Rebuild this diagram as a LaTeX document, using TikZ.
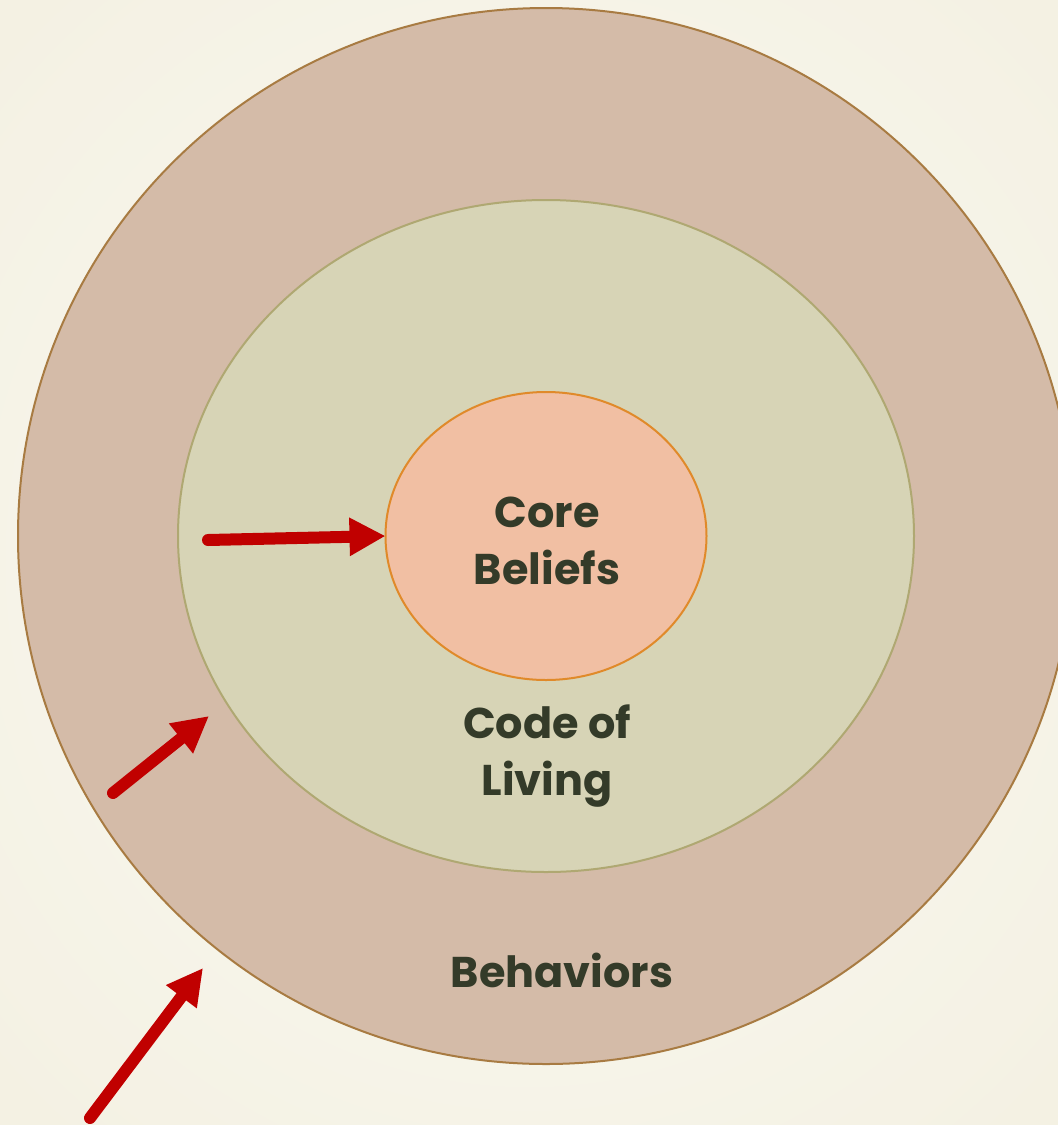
\documentclass[tikz,border=0pt]{standalone}
\usepackage{fontspec}
\setmainfont{Poppins}
\usetikzlibrary{shapes.geometric,arrows.meta}
\definecolor{bgin}{HTML}{FAF9F3}
\definecolor{bgout}{HTML}{F4F1E3}
\definecolor{outerfill}{HTML}{D4BBA8}
\definecolor{outerline}{HTML}{A87B42}
\definecolor{midfill}{HTML}{D7D4B6}
\definecolor{midline}{HTML}{AFA872}
\definecolor{corefill}{HTML}{F1BFA3}
\definecolor{coreline}{HTML}{E08A2A}
\definecolor{labeltext}{HTML}{343B29}
\definecolor{arrowred}{HTML}{C00000}
\tikzset{
  ring/.style={ellipse, inner sep=0pt, outer sep=0pt, line width=2pt},
  label/.style={text=labeltext, font=\bfseries\fontsize{43}{57}\selectfont, align=center, inner sep=0pt},
  pointer/.style={draw=arrowred, line width=12pt, line cap=round,
    -{Triangle[length=36pt,width=36pt]}}
}
\begin{document}
\begin{tikzpicture}[x=1pt,y=-1pt]
  \useasboundingbox (0,0) rectangle (1058,1125);
  \clip (0,0) rectangle (1058,1125);
  % soft cream backdrop
  \shade[inner color=bgin, outer color=bgout] (-200,-200) rectangle (1258,1325);
  % three nested layers
  \node[ring, draw=outerline, fill=outerfill, minimum width=1056pt, minimum height=1056pt] (behav) at (546,536) {};
  \node[ring, draw=midline, fill=midfill, minimum width=736pt, minimum height=672pt] (code) at (546,536) {};
  \node[ring, draw=coreline, fill=corefill, minimum width=321pt, minimum height=288pt] (core) at (546,536) {};
  % labels
  \node[label] (coretxt) at (547,541) {Core\\Beliefs};
  \node[label] (codetxt) at (547,756) {Code of\\Living};
  \node[label] (behavtxt) at (562,970) {Behaviors};
  % arrow anchors
  \coordinate (a1) at (208,540);
  \coordinate (a2) at (113,793);
  \coordinate (b2) at (209,716);
  \coordinate (a3) at (90,1118);
  \coordinate (b3) at (203,968);
  % arrows
  \draw[pointer] (a1) -- (core.west);
  \draw[pointer] (a2) -- (b2);
  \draw[pointer] (a3) -- (b3);
\end{tikzpicture}
\end{document}
